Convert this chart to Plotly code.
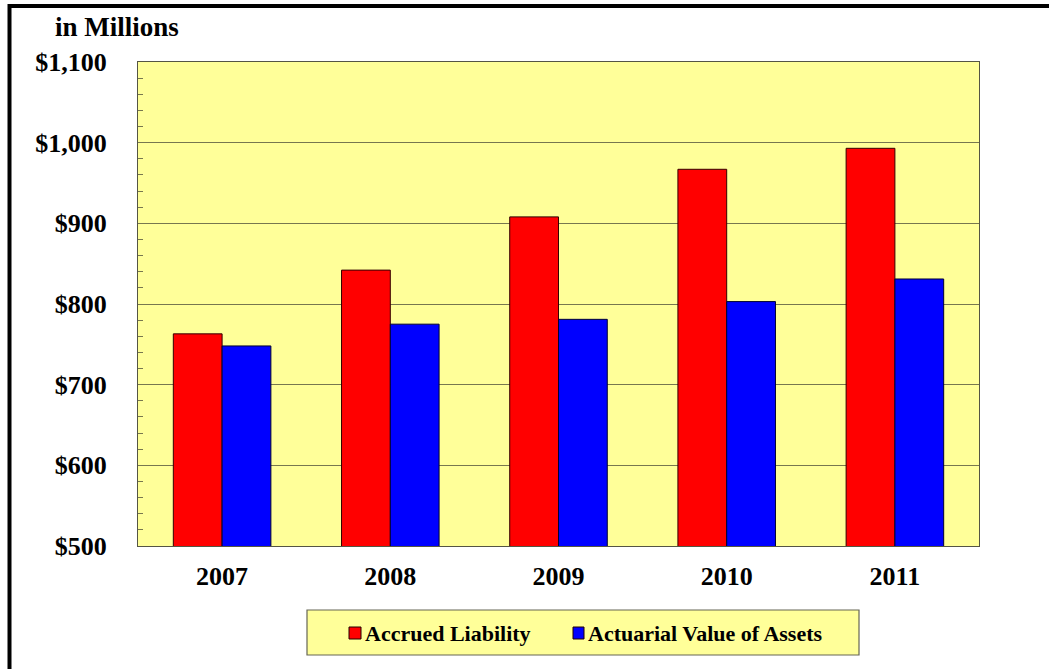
import plotly.graph_objects as go

years = ["2007", "2008", "2009", "2010", "2011"]
accrued_liability = [763, 842, 908, 967, 993]
actuarial_assets = [748, 775, 781, 803, 831]
y_tickvals = [500, 600, 700, 800, 900, 1000, 1100]
y_ticktext = ["$500", "$600", "$700", "$800", "$900", "$1,000", "$1,100"]
series_names = ["Accrued Liability", "Actuarial Value of Assets"]
series_colors = ["#FF0000", "#0000FF"]

FONT = "Liberation Serif, Times New Roman, serif"

fig = go.Figure()
fig.add_trace(go.Bar(x=years, y=accrued_liability, name=series_names[0],
                     marker=dict(color=series_colors[0], line=dict(color="#330000", width=1))))
fig.add_trace(go.Bar(x=years, y=actuarial_assets, name=series_names[1],
                     marker=dict(color=series_colors[1], line=dict(color="#000033", width=1))))

L, R, T, B = 138, 70, 62, 123
W, H = 1049, 669
pw, ph = W - L - R, H - T - B

def px(x):
    return (x - L) / pw

def py(y):
    return (H - B - y) / ph

shapes = [
    # legend box
    dict(type="rect", xref="paper", yref="paper", x0=px(307), x1=px(859), y0=py(655), y1=py(610),
         fillcolor="#FFFF99", line=dict(color="#666655", width=1.2), layer="below"),
    # outer frame
    dict(type="rect", xref="paper", yref="paper", x0=px(9.5), x1=px(1300), y0=py(1000), y1=py(6),
         fillcolor="rgba(0,0,0,0)", line=dict(color="black", width=4)),
]
annotations = [dict(text="in Millions", xref="paper", yref="paper", x=px(53), y=py(27),
                    xanchor="left", yanchor="middle", showarrow=False,
                    font=dict(family=FONT, size=27, weight="bold"))]

# manual legend entries
legend_sq = [(349, 361), (573, 584)]
legend_tx = [365, 588]
for (sx0, sx1), tx, name, col in zip(legend_sq, legend_tx, series_names, series_colors):
    shapes.append(dict(type="rect", xref="paper", yref="paper", x0=px(sx0), x1=px(sx1),
                       y0=py(639), y1=py(627), fillcolor=col, line=dict(color="#220000", width=1)))
    annotations.append(dict(text=name, xref="paper", yref="paper", x=px(tx - 2), y=py(633),
                            xanchor="left", yanchor="middle", showarrow=False,
                            font=dict(family=FONT, size=22, weight="bold")))

fig.update_layout(
    width=W, height=H,
    margin=dict(l=L, r=R, t=T, b=B, pad=0),
    paper_bgcolor="white",
    plot_bgcolor="#FFFF99",
    barmode="group", bargap=0.42, bargroupgap=0,
    font=dict(family=FONT, color="black", size=26, weight="bold"),
    showlegend=False,
    annotations=annotations,
    shapes=shapes,
)

fig.update_xaxes(showline=True, linecolor="#555544", linewidth=1, mirror=True,
                 showgrid=False, ticks="", tickfont=dict(size=26),
                 ticklabelstandoff=7)
fig.update_yaxes(range=[500, 1100], tickvals=y_tickvals, ticktext=y_ticktext,
                 showline=True, linecolor="#555544", linewidth=1, mirror=True,
                 showgrid=True, gridcolor="#77774F", gridwidth=1,
                 ticks="inside", ticklen=5, tickcolor="#77774F",
                 minor=dict(dtick=20, tick0=500, ticks="inside", ticklen=5, tickcolor="#77774F", showgrid=False),
                 tickfont=dict(size=26), ticklabelstandoff=25, zeroline=False)

fig.write_html("out.html", config={"displayModeBar": False},
               post_script="document.body.style.margin='0';document.body.style.overflow='hidden';")
